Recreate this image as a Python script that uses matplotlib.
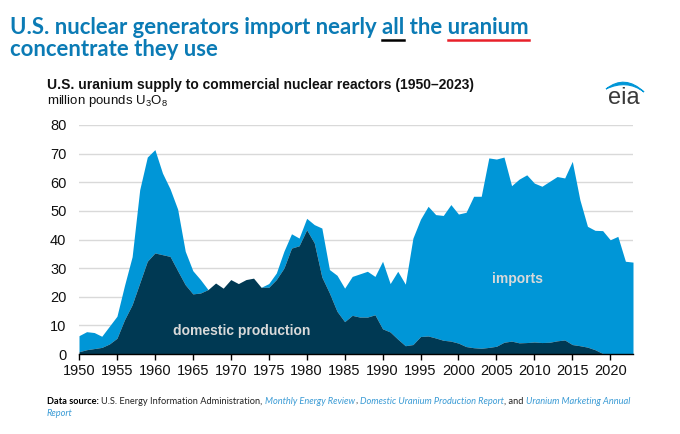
import matplotlib
matplotlib.use('Agg')
import matplotlib.pyplot as plt
import numpy as np
from matplotlib.lines import Line2D
from matplotlib.path import Path
from matplotlib.patches import PathPatch

# U.S. uranium supply, million pounds U3O8
years = list(range(1950, 2024))
domestic = [0.8, 1.5, 1.9, 2.3, 3.5, 5.5, 12.0, 17.2, 24.8, 32.4,
            35.3, 34.7, 34.1, 29.1, 24.2, 21.0, 21.3, 22.5, 24.8, 23.0,
            26.0, 24.6, 26.0, 26.5, 23.3, 23.3, 26.0, 30.0, 37.0, 37.8,
            43.4, 38.8, 26.9, 21.3, 14.9, 11.3, 13.5, 12.9, 12.9, 13.7,
            8.8, 7.7, 5.2, 2.9, 3.3, 6.1, 6.3, 5.6, 4.8, 4.5,
            3.8, 2.6, 2.2, 2.0, 2.3, 2.7, 4.1, 4.5, 3.9, 4.0,
            4.2, 4.0, 4.1, 4.6, 4.9, 3.3, 2.9, 2.4, 1.5, 0.2,
            0.0, 0.0, 0.1, 0.05]
total = [6.4, 7.8, 7.5, 6.2, 9.7, 13.2, 24.0, 34.0, 57.4, 68.8,
         71.4, 63.2, 57.7, 50.6, 35.9, 29.1, 26.0, 22.5, 24.8, 23.0,
         26.0, 24.6, 26.0, 26.5, 23.3, 24.6, 28.3, 35.9, 42.0, 40.5,
         47.4, 45.2, 44.0, 29.5, 27.5, 23.0, 27.1, 28.0, 28.9, 27.1,
         32.4, 24.6, 28.9, 24.4, 40.5, 47.1, 51.6, 48.7, 48.4, 52.2,
         48.9, 49.5, 55.1, 55.1, 68.5, 68.1, 68.8, 58.8, 61.1, 62.6,
         59.7, 58.6, 60.3, 62.0, 61.5, 67.3, 53.9, 44.6, 43.2, 43.1,
         39.9, 41.1, 32.4, 32.1]
x_ticks = list(range(1950, 2021, 5))
y_ticks = list(range(0, 81, 10))

title_blue = '#0b7bb5'
imports_blue = '#0096d7'
domestic_navy = '#003953'
link_blue = '#3a9bd5'

plt.rcParams['mathtext.fontset'] = 'custom'
plt.rcParams['mathtext.rm'] = 'Liberation Sans'

W, H = 680, 434
fig = plt.figure(figsize=(W / 100, H / 100), dpi=100)
renderer = fig.canvas.get_renderer()


def fx(px):
    return px / W


def fy(py):
    return 1 - py / H


def width_of(t):
    return t.get_window_extent(renderer=renderer).width


def fit_text(x, y, s, target_w, **kw):
    t = fig.text(fx(x), fy(y), s, **kw)
    size = kw.get('fontsize', 10)
    t.set_fontsize(size * target_w / width_of(t))
    return t


# axes
ax = fig.add_axes([fx(79), fy(354), fx(633) - fx(79), fy(125) - fy(354)])
ax.fill_between(years, domestic, total, color=imports_blue, linewidth=0)
ax.fill_between(years, 0, domestic, color=domestic_navy, linewidth=0)
ax.set_xlim(1950, 2023)
ax.set_ylim(0, 80)
ax.set_xticks(x_ticks)
ax.set_yticks(y_ticks)
for yv in y_ticks[1:]:
    ax.axhline(yv, color='#d9d9d9', linewidth=1.0, zorder=0)
ax.set_axisbelow(True)
for side in ['left', 'right', 'top']:
    ax.spines[side].set_visible(False)
ax.spines['bottom'].set_color('black')
ax.spines['bottom'].set_linewidth(1.0)
ax.spines['bottom'].set_zorder(5)
ax.tick_params(axis='x', length=4, width=1, color='black', labelsize=10.5, pad=3)
ax.tick_params(axis='y', length=0, labelsize=10.5, pad=9)
for lab in ax.get_xticklabels() + ax.get_yticklabels():
    lab.set_family('Liberation Sans')
    lab.set_color('#111111')

ax.text(1971.5, 7.9, 'domestic production', ha='center', va='center',
        fontsize=10, fontweight='bold', color='#d9d9d9', family='Liberation Sans')
ax.text(2007.8, 26.2, 'imports', ha='center', va='center',
        fontsize=10, fontweight='bold', color='#d9d9d9', family='Liberation Sans')

# title with underlined words
line1 = 'U.S. nuclear generators import nearly all the uranium'
tkw = dict(fontsize=16, fontweight='bold', color=title_blue, family='Lato',
           va='baseline', ha='left')
t1 = fit_text(10, 34, line1, 520, **tkw)
tsize = t1.get_fontsize()
fig.text(fx(10), fy(56), 'concentrate they use', **dict(tkw, fontsize=tsize))


def word_span(prefix, word):
    a = fig.text(0, 0, prefix + word, **dict(tkw, fontsize=tsize))
    b = fig.text(0, 0, word, **dict(tkw, fontsize=tsize))
    end = 10 + width_of(a)
    start = end - width_of(b)
    a.remove()
    b.remove()
    return start, end


for prefix, word, col in [('U.S. nuclear generators import nearly ', 'all', 'black'),
                          ('U.S. nuclear generators import nearly all the ', 'uranium', '#e8202a')]:
    s, e = word_span(prefix, word)
    fig.add_artist(Line2D([fx(s), fx(e)], [fy(39.5), fy(39.5)], color=col, linewidth=1.8))

# chart subtitle
fit_text(47, 89, 'U.S. uranium supply to commercial nuclear reactors (1950\u20132023)', 426,
         fontsize=10, fontweight='bold', color='#111111', family='Liberation Sans', va='baseline')
fig.text(fx(47), fy(104), r'million pounds U$_3$O$_8$', fontsize=9.5, color='#111111',
         family='Liberation Sans', va='baseline')

# eia logo
fig.text(fx(624), fy(104), 'eia', fontsize=17, color='#3a3a3a', family='Liberation Sans',
         ha='center', va='baseline')
arc = Path([(fx(606), fy(89)), (fx(625), fy(74)), (fx(644), fy(92)),
            (fx(627), fy(79)), (fx(606), fy(89))],
           [Path.MOVETO, Path.CURVE3, Path.CURVE3, Path.CURVE3, Path.CURVE3])
fig.add_artist(PathPatch(arc, facecolor=imports_blue, edgecolor=imports_blue, linewidth=0.8,
                         transform=fig.transFigure))

# data source footer
fkw = dict(fontsize=6.7, family='Lato', va='baseline', ha='left')
x = 47
pieces = [('Data source:', dict(fontweight='bold', color='black')),
          (' U.S. Energy Information Administration, ', dict(color='#222222')),
          ('Monthly Energy Review', dict(style='italic', color=link_blue)),
          (', ', dict(color='#222222')),
          ('Domestic Uranium Production Report', dict(style='italic', color=link_blue)),
          (', and ', dict(color='#222222')),
          ('Uranium Marketing Annual', dict(style='italic', color=link_blue))]
for txt, extra in pieces:
    lead = len(txt) - len(txt.lstrip(' '))
    trail = len(txt) - len(txt.rstrip(' '))
    x += lead * 2.6
    t = fig.text(fx(x), fy(404), txt.strip(' '), **fkw, **extra)
    x += width_of(t) + trail * 2.6
fig.text(fx(47), fy(416), 'Report', style='italic', color=link_blue, **fkw)

fig.savefig('out.png', dpi=100)
